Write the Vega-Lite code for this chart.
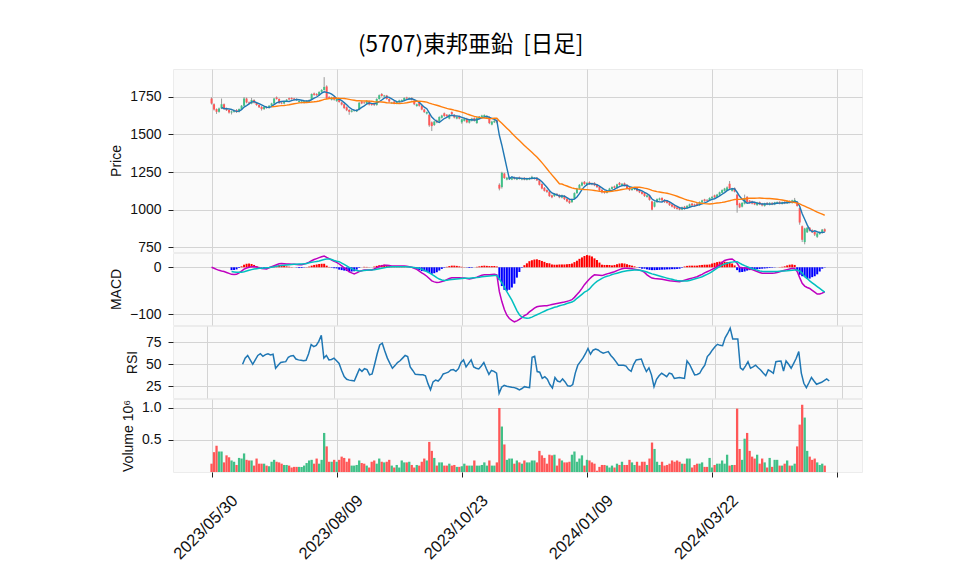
{
"$schema":"https://vega.github.io/schema/vega-lite/v6.json",
"background":"white",
"padding":{"left":108,"top":34,"right":5,"bottom":5},
"title":{"text":"(5707)東邦亜鉛 \u00a0[日足]","font":"Noto Sans CJK JP","fontSize":22.5,"fontWeight":"normal","anchor":"middle","dx":-15,"offset":12,"color":"#000000"},
"config":{
"view":{"fill":"#fafafa","stroke":"#ececec"},
"axis":{"labelFont":"Liberation Sans","titleFont":"Liberation Sans","labelFontSize":14,"titleFontSize":14,"titleFontWeight":"normal","labelColor":"#111111","titleColor":"#111111","gridColor":"#d4d4d4","gridWidth":1,"tickColor":"#222222","tickSize":5,"labelPadding":7,"titlePadding":6,"domain":false}
},
"spacing":1,
"bounds":"flush",
"datasets":{"d":[
{"i":0,"o":1738,"h":1746,"l":1698,"c":1705,"v":0.13,"m":0},
{"i":1,"o":1700,"h":1706,"l":1658,"c":1665,"v":0.31,"m":-2},
{"i":2,"o":1668,"h":1672,"l":1636,"c":1650,"v":0.41,"m":-4.5},
{"i":3,"o":1650,"h":1678,"l":1644,"c":1672,"v":0.32,"m":-6.5},
{"i":4,"o":1672,"h":1738,"l":1668,"c":1700,"v":0.32,"m":-8},
{"i":5,"o":1700,"h":1705,"l":1662,"c":1670,"v":0.15,"m":-9},
{"i":6,"o":1672,"h":1678,"l":1655,"c":1660,"v":0.26,"m":-11},
{"i":7,"o":1662,"h":1668,"l":1638,"c":1645,"v":0.23,"m":-13},
{"i":8,"o":1645,"h":1658,"l":1632,"c":1652,"v":0.18,"m":-15,"s":-9,"d":-6},
{"i":9,"o":1650,"h":1665,"l":1644,"c":1660,"v":0.16,"m":-15.5,"s":-9.8,"d":-5.7},
{"i":10,"o":1662,"h":1668,"l":1642,"c":1648,"v":0.11,"m":-15,"s":-10.5,"d":-4.5},
{"i":11,"o":1650,"h":1672,"l":1645,"c":1668,"v":0.22,"m":-12,"s":-10.8,"d":-1.5},
{"i":12,"o":1668,"h":1695,"l":1664,"c":1690,"v":0.21,"m":-8,"s":-10.6,"d":2},
{"i":13,"o":1690,"h":1748,"l":1686,"c":1738,"v":0.29,"m":-4,"s":-9.5,"d":5.5},
{"i":14,"o":1738,"h":1744,"l":1706,"c":1712,"v":0.19,"m":-1.5,"s":-8,"d":7.5,"r":50},
{"i":15,"o":1712,"h":1718,"l":1700,"c":1705,"v":0.18,"m":0,"s":-6.5,"d":8,"r":57},
{"i":16,"o":1705,"h":1742,"l":1700,"c":1728,"v":0.18,"m":1,"s":-5,"d":7,"r":60},
{"i":17,"o":1728,"h":1733,"l":1705,"c":1710,"v":0.10,"m":1.4,"s":-3.7,"d":5,"r":55},
{"i":18,"o":1710,"h":1714,"l":1690,"c":1695,"v":0.21,"m":0.5,"s":-3,"d":2.5,"r":50},
{"i":19,"o":1695,"h":1700,"l":1675,"c":1680,"v":0.13,"m":-1,"s":-2.3,"d":0.8,"r":55},
{"i":20,"o":1682,"h":1688,"l":1658,"c":1668,"v":0.13,"m":-2.5,"s":-1.8,"d":-1,"r":60},
{"i":21,"o":1668,"h":1686,"l":1662,"c":1682,"v":0.13,"m":-3,"s":-1.4,"d":-1.6,"r":62},
{"i":22,"o":1682,"h":1688,"l":1670,"c":1675,"v":0.10,"m":-3.5,"s":-0.9,"d":-2.6,"r":59},
{"i":23,"o":1675,"h":1694,"l":1670,"c":1690,"v":0.09,"m":-1,"s":-0.5,"d":-0.5,"r":61},
{"i":24,"o":1690,"h":1710,"l":1686,"c":1705,"v":0.16,"m":1.5,"s":0.3,"d":1.2,"r":62},
{"i":25,"o":1705,"h":1742,"l":1700,"c":1738,"v":0.19,"m":3.5,"s":1,"d":2.5,"r":60.6},
{"i":26,"o":1745,"h":1752,"l":1730,"c":1735,"v":0.16,"m":5.5,"s":2,"d":3.5,"r":61.4},
{"i":27,"o":1735,"h":1740,"l":1702,"c":1708,"v":0.15,"m":7.5,"s":3,"d":4.5,"r":45.5},
{"i":28,"o":1710,"h":1716,"l":1700,"c":1705,"v":0.13,"m":7.8,"s":3.8,"d":4,"r":49},
{"i":29,"o":1705,"h":1722,"l":1700,"c":1718,"v":0.11,"m":7.4,"s":4.5,"d":3,"r":52},
{"i":30,"o":1718,"h":1735,"l":1714,"c":1730,"v":0.11,"m":7,"s":5,"d":2,"r":52.5},
{"i":31,"o":1740,"h":1745,"l":1727,"c":1732,"v":0.10,"m":6.8,"s":5.5,"d":1.3,"r":53},
{"i":32,"o":1742,"h":1746,"l":1730,"c":1735,"v":0.07,"m":6.6,"s":6,"d":0.6,"r":58},
{"i":33,"o":1738,"h":1742,"l":1725,"c":1730,"v":0.08,"m":6.4,"s":6.4,"d":0,"r":59.5},
{"i":34,"o":1735,"h":1739,"l":1722,"c":1728,"v":0.08,"m":6,"s":6.6,"d":-0.6,"r":60},
{"i":35,"o":1715,"h":1726,"l":1710,"c":1722,"v":0.08,"m":5.2,"s":6.8,"d":-1.6,"r":56},
{"i":36,"o":1712,"h":1722,"l":1706,"c":1718,"v":0.08,"m":5.5,"s":7,"d":-1.5,"r":55},
{"i":37,"o":1710,"h":1724,"l":1705,"c":1720,"v":0.10,"m":6.8,"s":7.4,"d":-0.6,"r":54.5},
{"i":38,"o":1712,"h":1726,"l":1708,"c":1722,"v":0.14,"m":8.5,"s":8,"d":0.5,"r":54},
{"i":39,"o":1718,"h":1732,"l":1714,"c":1728,"v":0.18,"m":11,"s":9.5,"d":1.5,"r":54.5},
{"i":40,"o":1730,"h":1772,"l":1726,"c":1768,"v":0.19,"m":14,"s":10.5,"d":3.5,"r":62},
{"i":41,"o":1772,"h":1778,"l":1756,"c":1762,"v":0.13,"m":16.5,"s":11.5,"d":5,"r":72.5},
{"i":42,"o":1768,"h":1774,"l":1755,"c":1760,"v":0.21,"m":18.5,"s":12.5,"d":6,"r":70},
{"i":43,"o":1760,"h":1786,"l":1756,"c":1782,"v":0.13,"m":20.5,"s":13.5,"d":7,"r":71.5},
{"i":44,"o":1782,"h":1800,"l":1778,"c":1795,"v":0.19,"m":22.5,"s":15,"d":7.5,"r":76},
{"i":45,"o":1795,"h":1880,"l":1790,"c":1815,"v":0.61,"m":24,"s":16.5,"d":7.5,"r":83},
{"i":46,"o":1818,"h":1826,"l":1735,"c":1740,"v":0.40,"m":21,"s":17.5,"d":3.5,"r":57},
{"i":47,"o":1748,"h":1754,"l":1736,"c":1742,"v":0.16,"m":18.5,"s":17.7,"d":0.8,"r":60},
{"i":48,"o":1730,"h":1750,"l":1725,"c":1745,"v":0.16,"m":15.5,"s":16.5,"d":-1,"r":55},
{"i":49,"o":1748,"h":1752,"l":1724,"c":1730,"v":0.19,"m":12.5,"s":14.5,"d":-2,"r":55.5},
{"i":50,"o":1722,"h":1740,"l":1716,"c":1735,"v":0.16,"m":10.6,"s":13,"d":-2.4,"r":57},
{"i":51,"o":1735,"h":1740,"l":1710,"c":1715,"v":0.19,"m":7,"s":12,"d":-5,"r":54},
{"i":52,"o":1712,"h":1718,"l":1692,"c":1698,"v":0.24,"m":3,"s":9,"d":-6,"r":51},
{"i":53,"o":1700,"h":1705,"l":1668,"c":1675,"v":0.22,"m":-1,"s":6,"d":-7,"r":43},
{"i":54,"o":1680,"h":1686,"l":1654,"c":1660,"v":0.16,"m":-5,"s":3,"d":-8,"r":36},
{"i":55,"o":1662,"h":1668,"l":1630,"c":1650,"v":0.21,"m":-9.5,"s":0,"d":-9.5,"r":33},
{"i":56,"o":1650,"h":1662,"l":1645,"c":1658,"v":0.10,"m":-12,"s":-3,"d":-9,"r":32},
{"i":57,"o":1655,"h":1665,"l":1650,"c":1660,"v":0.10,"m":-14,"s":-5.5,"d":-8.5,"r":31.5},
{"i":58,"o":1652,"h":1668,"l":1648,"c":1662,"v":0.11,"m":-12,"s":-7,"d":-5,"r":31},
{"i":59,"o":1665,"h":1715,"l":1660,"c":1710,"v":0.18,"m":-9,"s":-7.8,"d":-1.2,"r":38},
{"i":60,"o":1718,"h":1724,"l":1700,"c":1705,"v":0.14,"m":-7.5,"s":-7.5,"d":0,"r":44.7},
{"i":61,"o":1712,"h":1716,"l":1702,"c":1708,"v":0.13,"m":-6,"s":-7,"d":1,"r":42},
{"i":62,"o":1705,"h":1727,"l":1700,"c":1722,"v":0.10,"m":-5.7,"s":-6.5,"d":0.8,"r":45},
{"i":63,"o":1720,"h":1725,"l":1692,"c":1698,"v":0.07,"m":-5.7,"s":-6,"d":0.3,"r":44},
{"i":64,"o":1702,"h":1706,"l":1690,"c":1695,"v":0.16,"m":-5.7,"s":-5.7,"d":0,"r":38},
{"i":65,"o":1700,"h":1704,"l":1688,"c":1695,"v":0.18,"m":-3.5,"s":-5,"d":1.5,"r":39},
{"i":66,"o":1695,"h":1740,"l":1690,"c":1735,"v":0.13,"m":-1,"s":-4,"d":3,"r":50},
{"i":67,"o":1735,"h":1765,"l":1730,"c":1760,"v":0.21,"m":1.4,"s":-3,"d":4.4,"r":62},
{"i":68,"o":1768,"h":1774,"l":1750,"c":1755,"v":0.16,"m":3,"s":-2,"d":5,"r":72},
{"i":69,"o":1752,"h":1762,"l":1746,"c":1758,"v":0.15,"m":4.5,"s":-1,"d":5.5,"r":74},
{"i":70,"o":1758,"h":1762,"l":1730,"c":1735,"v":0.16,"m":4.5,"s":0,"d":4.5,"r":65},
{"i":71,"o":1735,"h":1740,"l":1712,"c":1718,"v":0.19,"m":3.8,"s":0.6,"d":3.2,"r":57},
{"i":72,"o":1708,"h":1716,"l":1702,"c":1712,"v":0.10,"m":3,"s":1,"d":2,"r":51},
{"i":73,"o":1718,"h":1722,"l":1700,"c":1705,"v":0.07,"m":2.8,"s":1.2,"d":1.6,"r":45.5},
{"i":74,"o":1705,"h":1722,"l":1700,"c":1718,"v":0.11,"m":2.8,"s":1.3,"d":1.5,"r":48.5},
{"i":75,"o":1715,"h":1730,"l":1710,"c":1725,"v":0.07,"m":2.8,"s":1.4,"d":1.4,"r":52},
{"i":76,"o":1722,"h":1732,"l":1718,"c":1728,"v":0.18,"m":2.8,"s":1.4,"d":1.4,"r":54},
{"i":77,"o":1725,"h":1746,"l":1720,"c":1742,"v":0.15,"m":2.8,"s":1.4,"d":1.4,"r":57},
{"i":78,"o":1745,"h":1750,"l":1733,"c":1738,"v":0.15,"m":2,"s":1.2,"d":0.8,"r":60},
{"i":79,"o":1735,"h":1746,"l":1730,"c":1742,"v":0.16,"m":1,"s":0.8,"d":0.2,"r":58.7},
{"i":80,"o":1742,"h":1747,"l":1725,"c":1730,"v":0.11,"m":0,"s":0.2,"d":-0.2,"r":47},
{"i":81,"o":1725,"h":1730,"l":1694,"c":1700,"v":0.07,"m":-2,"s":-0.5,"d":-1.5,"r":43},
{"i":82,"o":1688,"h":1705,"l":1684,"c":1700,"v":0.11,"m":-4.5,"s":-1.3,"d":-3.2,"r":38.6},
{"i":83,"o":1712,"h":1716,"l":1684,"c":1690,"v":0.10,"m":-8,"s":-2,"d":-6,"r":38.4},
{"i":84,"o":1690,"h":1695,"l":1660,"c":1665,"v":0.16,"m":-12,"s":-4,"d":-8,"r":38.2},
{"i":85,"o":1665,"h":1670,"l":1642,"c":1648,"v":0.21,"m":-15,"s":-6.5,"d":-8.5,"r":38},
{"i":86,"o":1638,"h":1652,"l":1632,"c":1648,"v":0.18,"m":-19,"s":-9,"d":-10,"r":37},
{"i":87,"o":1630,"h":1635,"l":1550,"c":1560,"v":0.47,"m":-24,"s":-12,"d":-12,"r":28},
{"i":88,"o":1580,"h":1586,"l":1522,"c":1555,"v":0.33,"m":-29,"s":-15,"d":-14,"r":21},
{"i":89,"o":1562,"h":1590,"l":1556,"c":1585,"v":0.22,"m":-31,"s":-18.5,"d":-12.5,"r":30},
{"i":90,"o":1592,"h":1598,"l":1574,"c":1580,"v":0.10,"m":-32.5,"s":-22,"d":-10.5,"r":32},
{"i":91,"o":1585,"h":1620,"l":1580,"c":1615,"v":0.15,"m":-32,"s":-25,"d":-7,"r":31},
{"i":92,"o":1610,"h":1630,"l":1605,"c":1625,"v":0.15,"m":-30.5,"s":-27,"d":-3.5,"r":34},
{"i":93,"o":1640,"h":1645,"l":1616,"c":1622,"v":0.10,"m":-29,"s":-28,"d":-1,"r":39},
{"i":94,"o":1630,"h":1635,"l":1614,"c":1620,"v":0.10,"m":-26.5,"s":-27.5,"d":1,"r":40},
{"i":95,"o":1605,"h":1635,"l":1600,"c":1630,"v":0.13,"m":-24,"s":-26.5,"d":2.5,"r":41},
{"i":96,"o":1648,"h":1652,"l":1630,"c":1635,"v":0.10,"m":-22.5,"s":-26,"d":3.5,"r":43.5},
{"i":97,"o":1630,"h":1635,"l":1606,"c":1612,"v":0.11,"m":-22,"s":-25.5,"d":3.5,"r":44},
{"i":98,"o":1605,"h":1620,"l":1600,"c":1615,"v":0.08,"m":-22,"s":-25,"d":3,"r":42},
{"i":99,"o":1620,"h":1625,"l":1600,"c":1605,"v":0.08,"m":-22.5,"s":-24.5,"d":2,"r":45},
{"i":100,"o":1580,"h":1605,"l":1570,"c":1600,"v":0.09,"m":-23,"s":-24,"d":1,"r":52},
{"i":101,"o":1590,"h":1610,"l":1585,"c":1605,"v":0.13,"m":-23,"s":-23.5,"d":0.5,"r":55},
{"i":102,"o":1605,"h":1610,"l":1574,"c":1580,"v":0.10,"m":-24,"s":-23.5,"d":-0.5,"r":47},
{"i":103,"o":1578,"h":1600,"l":1572,"c":1595,"v":0.10,"m":-25,"s":-23.5,"d":-1.5,"r":51},
{"i":104,"o":1590,"h":1610,"l":1585,"c":1605,"v":0.10,"m":-24,"s":-23,"d":-1,"r":55},
{"i":105,"o":1608,"h":1613,"l":1585,"c":1590,"v":0.18,"m":-22.5,"s":-22.5,"d":0,"r":47},
{"i":106,"o":1575,"h":1615,"l":1570,"c":1610,"v":0.10,"m":-21,"s":-22,"d":1,"r":45.5},
{"i":107,"o":1605,"h":1622,"l":1600,"c":1618,"v":0.10,"m":-19,"s":-21,"d":2,"r":44.7},
{"i":108,"o":1612,"h":1630,"l":1608,"c":1625,"v":0.11,"m":-17,"s":-20,"d":3,"r":48},
{"i":109,"o":1615,"h":1633,"l":1610,"c":1628,"v":0.15,"m":-16,"s":-19.5,"d":3.5,"r":52},
{"i":110,"o":1610,"h":1625,"l":1605,"c":1620,"v":0.10,"m":-16,"s":-19,"d":3,"r":45},
{"i":111,"o":1615,"h":1620,"l":1568,"c":1575,"v":0.18,"m":-16,"s":-18.5,"d":2.5,"r":38.6},
{"i":112,"o":1565,"h":1590,"l":1560,"c":1585,"v":0.10,"m":-15.5,"s":-18,"d":2.5,"r":43},
{"i":113,"o":1580,"h":1596,"l":1575,"c":1590,"v":0.10,"m":-15,"s":-17.7,"d":2.7,"r":42},
{"i":114,"o":1592,"h":1598,"l":1574,"c":1580,"v":0.15,"m":-16,"s":-17.7,"d":1.7,"r":40},
{"i":115,"o":1165,"h":1175,"l":1128,"c":1140,"v":1.0,"m":-52,"s":-25,"d":-27,"r":17},
{"i":116,"o":1150,"h":1252,"l":1140,"c":1245,"v":0.71,"m":-73,"s":-33,"d":-40,"r":24},
{"i":117,"o":1240,"h":1245,"l":1204,"c":1210,"v":0.43,"m":-90,"s":-42,"d":-48,"r":26},
{"i":118,"o":1200,"h":1218,"l":1195,"c":1212,"v":0.19,"m":-102,"s":-52,"d":-50,"r":25},
{"i":119,"o":1205,"h":1220,"l":1200,"c":1215,"v":0.21,"m":-109,"s":-61,"d":-48,"r":24.6},
{"i":120,"o":1200,"h":1215,"l":1196,"c":1210,"v":0.21,"m":-113,"s":-70,"d":-43,"r":24},
{"i":121,"o":1215,"h":1220,"l":1200,"c":1205,"v":0.13,"m":-116,"s":-81,"d":-35,"r":23.5},
{"i":122,"o":1200,"h":1214,"l":1196,"c":1210,"v":0.18,"m":-114,"s":-92,"d":-22,"r":22.5},
{"i":123,"o":1215,"h":1220,"l":1200,"c":1205,"v":0.15,"m":-111,"s":-101,"d":-10,"r":21},
{"i":124,"o":1200,"h":1212,"l":1195,"c":1208,"v":0.13,"m":-107,"s":-106,"d":-1,"r":22.5},
{"i":125,"o":1212,"h":1216,"l":1195,"c":1200,"v":0.18,"m":-103,"s":-107.5,"d":4.5,"r":24.6},
{"i":126,"o":1198,"h":1212,"l":1194,"c":1208,"v":0.15,"m":-100,"s":-108.5,"d":8.5,"r":24},
{"i":127,"o":1200,"h":1215,"l":1196,"c":1210,"v":0.15,"m":-95,"s":-108,"d":13,"r":23.5},
{"i":128,"o":1205,"h":1225,"l":1200,"c":1218,"v":0.18,"m":-91,"s":-106,"d":15,"r":58},
{"i":129,"o":1205,"h":1216,"l":1200,"c":1212,"v":0.18,"m":-87,"s":-103.5,"d":16.5,"r":59},
{"i":130,"o":1212,"h":1216,"l":1190,"c":1195,"v":0.15,"m":-84,"s":-101,"d":17,"r":41.7},
{"i":131,"o":1195,"h":1200,"l":1160,"c":1165,"v":0.33,"m":-83,"s":-98.5,"d":15.5,"r":41},
{"i":132,"o":1170,"h":1175,"l":1135,"c":1140,"v":0.26,"m":-82.5,"s":-96,"d":13.5,"r":34},
{"i":133,"o":1145,"h":1150,"l":1120,"c":1125,"v":0.22,"m":-82,"s":-93.5,"d":11.5,"r":36},
{"i":134,"o":1130,"h":1135,"l":1112,"c":1118,"v":0.13,"m":-82,"s":-91,"d":9,"r":33},
{"i":135,"o":1120,"h":1125,"l":1085,"c":1090,"v":0.27,"m":-80.5,"s":-89,"d":8.5,"r":27},
{"i":136,"o":1095,"h":1100,"l":1076,"c":1082,"v":0.26,"m":-79,"s":-87,"d":6,"r":23},
{"i":137,"o":1090,"h":1110,"l":1085,"c":1105,"v":0.27,"m":-78,"s":-85,"d":5.5,"r":35},
{"i":138,"o":1105,"h":1110,"l":1090,"c":1095,"v":0.10,"m":-77,"s":-84,"d":5.5,"r":31},
{"i":139,"o":1098,"h":1102,"l":1076,"c":1082,"v":0.21,"m":-76,"s":-82,"d":6,"r":30},
{"i":140,"o":1080,"h":1100,"l":1075,"c":1095,"v":0.18,"m":-75,"s":-80.5,"d":6,"r":33.3},
{"i":141,"o":1092,"h":1096,"l":1064,"c":1070,"v":0.15,"m":-74,"s":-79,"d":6,"r":30},
{"i":142,"o":1072,"h":1076,"l":1050,"c":1055,"v":0.15,"m":-72.5,"s":-77,"d":6.5,"r":25.5},
{"i":143,"o":1060,"h":1064,"l":1038,"c":1045,"v":0.16,"m":-71,"s":-75.5,"d":7,"r":25},
{"i":144,"o":1050,"h":1075,"l":1045,"c":1070,"v":0.27,"m":-69,"s":-74,"d":8,"r":27},
{"i":145,"o":1072,"h":1115,"l":1068,"c":1110,"v":0.32,"m":-64,"s":-71,"d":11,"r":40},
{"i":146,"o":1110,"h":1145,"l":1105,"c":1140,"v":0.16,"m":-58,"s":-66,"d":14,"r":49},
{"i":147,"o":1140,"h":1170,"l":1135,"c":1165,"v":0.21,"m":-52,"s":-62,"d":18,"r":53},
{"i":148,"o":1160,"h":1186,"l":1155,"c":1180,"v":0.26,"m":-45,"s":-57.5,"d":21,"r":57},
{"i":149,"o":1185,"h":1190,"l":1165,"c":1170,"v":0.10,"m":-37,"s":-53,"d":24,"r":62},
{"i":150,"o":1165,"h":1182,"l":1160,"c":1178,"v":0.19,"m":-31,"s":-50,"d":26,"r":68},
{"i":151,"o":1182,"h":1188,"l":1165,"c":1170,"v":0.18,"m":-25,"s":-46,"d":25,"r":61.4},
{"i":152,"o":1175,"h":1180,"l":1162,"c":1168,"v":0.15,"m":-20,"s":-40,"d":23,"r":66},
{"i":153,"o":1178,"h":1182,"l":1156,"c":1162,"v":0.13,"m":-16,"s":-34.5,"d":19,"r":67.4},
{"i":154,"o":1165,"h":1170,"l":1144,"c":1150,"v":0.02,"m":-16.5,"s":-30,"d":15.5,"r":66.3},
{"i":155,"o":1152,"h":1156,"l":1124,"c":1130,"v":0.08,"m":-17,"s":-27,"d":10,"r":64},
{"i":156,"o":1132,"h":1136,"l":1108,"c":1115,"v":0.11,"m":-17.7,"s":-23.5,"d":5.5,"r":62.5},
{"i":157,"o":1122,"h":1126,"l":1106,"c":1112,"v":0.11,"m":-16,"s":-21,"d":5,"r":63.5},
{"i":158,"o":1112,"h":1130,"l":1108,"c":1125,"v":0.10,"m":-14,"s":-19,"d":5,"r":64.4},
{"i":159,"o":1125,"h":1145,"l":1120,"c":1140,"v":0.07,"m":-12.8,"s":-17.7,"d":4.9,"r":60},
{"i":160,"o":1138,"h":1155,"l":1134,"c":1150,"v":0.10,"m":-11,"s":-15.5,"d":4,"r":56.8},
{"i":161,"o":1155,"h":1160,"l":1140,"c":1145,"v":0.07,"m":-9.5,"s":-14,"d":5,"r":53},
{"i":162,"o":1145,"h":1172,"l":1140,"c":1168,"v":0.13,"m":-7,"s":-12.5,"d":6.5,"r":49},
{"i":163,"o":1178,"h":1184,"l":1160,"c":1165,"v":0.11,"m":-5,"s":-11,"d":8,"r":49},
{"i":164,"o":1160,"h":1176,"l":1155,"c":1172,"v":0.16,"m":-3,"s":-9.5,"d":8.5,"r":49},
{"i":165,"o":1175,"h":1180,"l":1155,"c":1160,"v":0.11,"m":-2,"s":-8.5,"d":8,"r":48},
{"i":166,"o":1165,"h":1170,"l":1135,"c":1140,"v":0.11,"m":-2,"s":-7.5,"d":6.5,"r":44},
{"i":167,"o":1145,"h":1150,"l":1125,"c":1130,"v":0.19,"m":-2.5,"s":-6.8,"d":5,"r":42},
{"i":168,"o":1130,"h":1145,"l":1126,"c":1140,"v":0.15,"m":-3,"s":-6.2,"d":3.5,"r":50},
{"i":169,"o":1135,"h":1146,"l":1130,"c":1142,"v":0.11,"m":-4,"s":-5.8,"d":2,"r":55},
{"i":170,"o":1145,"h":1150,"l":1120,"c":1125,"v":0.16,"m":-5,"s":-5.7,"d":0.5,"r":55.5},
{"i":171,"o":1130,"h":1135,"l":1110,"c":1115,"v":0.10,"m":-6,"s":-6.5,"d":-1.5,"r":56},
{"i":172,"o":1118,"h":1122,"l":1100,"c":1105,"v":0.16,"m":-7.5,"s":-7.5,"d":-3,"r":48},
{"i":173,"o":1110,"h":1114,"l":1085,"c":1090,"v":0.16,"m":-11,"s":-8.5,"d":-3,"r":41.7},
{"i":174,"o":1085,"h":1100,"l":1080,"c":1095,"v":0.11,"m":-16,"s":-10,"d":-4.5,"r":46},
{"i":175,"o":1095,"h":1100,"l":1060,"c":1065,"v":0.21,"m":-20,"s":-12,"d":-5.5,"r":38},
{"i":176,"o":1055,"h":1060,"l":995,"c":1000,"v":0.46,"m":-23,"s":-14,"d":-6,"r":24.6},
{"i":177,"o":1020,"h":1055,"l":1015,"c":1050,"v":0.36,"m":-24,"s":-15.5,"d":-6,"r":33},
{"i":178,"o":1050,"h":1075,"l":1045,"c":1070,"v":0.16,"m":-24.5,"s":-17,"d":-5.7,"r":37},
{"i":179,"o":1065,"h":1080,"l":1060,"c":1075,"v":0.11,"m":-25,"s":-18.5,"d":-5.5,"r":39.8},
{"i":180,"o":1078,"h":1082,"l":1056,"c":1062,"v":0.16,"m":-25.5,"s":-20,"d":-5,"r":38},
{"i":181,"o":1065,"h":1070,"l":1045,"c":1050,"v":0.10,"m":-26.5,"s":-21.5,"d":-5,"r":36},
{"i":182,"o":1060,"h":1064,"l":1040,"c":1045,"v":0.11,"m":-27.5,"s":-23,"d":-4.5,"r":40},
{"i":183,"o":1050,"h":1054,"l":1025,"c":1030,"v":0.13,"m":-28.5,"s":-24.5,"d":-4.5,"r":39},
{"i":184,"o":1035,"h":1040,"l":1015,"c":1020,"v":0.18,"m":-29,"s":-25.5,"d":-4,"r":34},
{"i":185,"o":1030,"h":1034,"l":1005,"c":1010,"v":0.16,"m":-29.5,"s":-27,"d":-4,"r":34.5},
{"i":186,"o":1015,"h":1020,"l":1000,"c":1005,"v":0.18,"m":-30,"s":-28,"d":-3.5,"r":35},
{"i":187,"o":1012,"h":1016,"l":995,"c":1000,"v":0.16,"m":-30.5,"s":-28.5,"d":-3,"r":34.5},
{"i":188,"o":1000,"h":1020,"l":996,"c":1015,"v":0.13,"m":-29,"s":-29,"d":-1,"r":34},
{"i":189,"o":1020,"h":1025,"l":1000,"c":1005,"v":0.13,"m":-27.5,"s":-29,"d":1.5,"r":53.8},
{"i":190,"o":1010,"h":1030,"l":1005,"c":1025,"v":0.21,"m":-26,"s":-29,"d":3,"r":50},
{"i":191,"o":1022,"h":1040,"l":1018,"c":1035,"v":0.21,"m":-24.5,"s":-28,"d":3.5,"r":44},
{"i":192,"o":1040,"h":1045,"l":1022,"c":1028,"v":0.07,"m":-23,"s":-26.5,"d":3.5,"r":37.9},
{"i":193,"o":1035,"h":1040,"l":1020,"c":1025,"v":0.11,"m":-21.5,"s":-25,"d":3.5,"r":38.5},
{"i":194,"o":1040,"h":1045,"l":1025,"c":1030,"v":0.13,"m":-20,"s":-23.5,"d":3.5,"r":39.8},
{"i":195,"o":1030,"h":1055,"l":1026,"c":1050,"v":0.13,"m":-17.5,"s":-22,"d":4.5,"r":45},
{"i":196,"o":1048,"h":1066,"l":1044,"c":1062,"v":0.15,"m":-15,"s":-20,"d":5,"r":49},
{"i":197,"o":1068,"h":1072,"l":1052,"c":1058,"v":0.08,"m":-12,"s":-17.5,"d":5.5,"r":58.7},
{"i":198,"o":1065,"h":1070,"l":1055,"c":1060,"v":0.08,"m":-9.5,"s":-15,"d":5.5,"r":62},
{"i":199,"o":1062,"h":1082,"l":1058,"c":1078,"v":0.22,"m":-7,"s":-12.5,"d":6,"r":66.3},
{"i":200,"o":1075,"h":1090,"l":1070,"c":1085,"v":0.07,"m":-4.5,"s":-9,"d":8,"r":70},
{"i":201,"o":1095,"h":1100,"l":1078,"c":1082,"v":0.11,"m":-2,"s":-5.7,"d":9.5,"r":72.7},
{"i":202,"o":1085,"h":1105,"l":1080,"c":1100,"v":0.13,"m":1.4,"s":-2,"d":11,"r":71.5},
{"i":203,"o":1100,"h":1120,"l":1095,"c":1115,"v":0.13,"m":6,"s":1.5,"d":12,"r":71.2},
{"i":204,"o":1112,"h":1135,"l":1108,"c":1130,"v":0.18,"m":10.5,"s":4.5,"d":12,"r":80},
{"i":205,"o":1125,"h":1145,"l":1120,"c":1140,"v":0.13,"m":14.5,"s":7,"d":12,"r":85},
{"i":206,"o":1128,"h":1155,"l":1124,"c":1148,"v":0.27,"m":16,"s":8.5,"d":11,"r":91},
{"i":207,"o":1172,"h":1190,"l":1135,"c":1140,"v":0.10,"m":17,"s":10,"d":10,"r":78.8},
{"i":208,"o":1125,"h":1145,"l":1120,"c":1140,"v":0.11,"m":17.7,"s":11,"d":8,"r":78.8},
{"i":209,"o":1142,"h":1148,"l":1115,"c":1120,"v":0.11,"m":14,"s":12,"d":4,"r":78.8},
{"i":210,"o":1100,"h":1105,"l":980,"c":1030,"v":0.99,"m":8.5,"s":12,"d":-6,"r":46},
{"i":211,"o":1040,"h":1046,"l":1010,"c":1015,"v":0.36,"m":0,"s":9,"d":-10.6,"r":43.6},
{"i":212,"o":1020,"h":1050,"l":1015,"c":1045,"v":0.19,"m":-1,"s":6,"d":-10,"r":48},
{"i":213,"o":1040,"h":1100,"l":1035,"c":1075,"v":0.52,"m":-1.5,"s":3.5,"d":-9,"r":53},
{"i":214,"o":1085,"h":1090,"l":1045,"c":1050,"v":0.61,"m":-2,"s":1.4,"d":-7,"r":45.5},
{"i":215,"o":1060,"h":1064,"l":1040,"c":1045,"v":0.33,"m":-3.5,"s":-1,"d":-6,"r":47},
{"i":216,"o":1055,"h":1060,"l":1035,"c":1040,"v":0.24,"m":-5,"s":-3,"d":-5,"r":49},
{"i":217,"o":1048,"h":1052,"l":1030,"c":1035,"v":0.21,"m":-7,"s":-4.5,"d":-4.5,"r":46},
{"i":218,"o":1030,"h":1052,"l":1026,"c":1048,"v":0.27,"m":-9,"s":-6,"d":-4,"r":43.6},
{"i":219,"o":1050,"h":1054,"l":1030,"c":1035,"v":0.13,"m":-11,"s":-7.8,"d":-3.5,"r":40},
{"i":220,"o":1040,"h":1045,"l":1022,"c":1028,"v":0.21,"m":-12.8,"s":-8.5,"d":-3,"r":37},
{"i":221,"o":1025,"h":1046,"l":1020,"c":1042,"v":0.15,"m":-12.8,"s":-9,"d":-2.5,"r":43.6},
{"i":222,"o":1045,"h":1050,"l":1030,"c":1035,"v":0.07,"m":-12.8,"s":-9.2,"d":-2,"r":42},
{"i":223,"o":1032,"h":1050,"l":1028,"c":1045,"v":0.22,"m":-12.8,"s":-9.2,"d":-1.5,"r":39.8},
{"i":224,"o":1045,"h":1050,"l":1030,"c":1035,"v":0.08,"m":-12.8,"s":-9.2,"d":-1,"r":53},
{"i":225,"o":1035,"h":1052,"l":1030,"c":1048,"v":0.19,"m":-12,"s":-9.2,"d":-0.5,"r":53.5},
{"i":226,"o":1042,"h":1055,"l":1038,"c":1050,"v":0.19,"m":-11,"s":-9,"d":0,"r":53.8},
{"i":227,"o":1052,"h":1056,"l":1035,"c":1040,"v":0.10,"m":-9.5,"s":-8.5,"d":0.5,"r":42.4},
{"i":228,"o":1038,"h":1054,"l":1034,"c":1050,"v":0.10,"m":-8,"s":-8,"d":1,"r":53.8},
{"i":229,"o":1052,"h":1056,"l":1037,"c":1042,"v":0.13,"m":-6.5,"s":-7.8,"d":2,"r":50},
{"i":230,"o":1042,"h":1060,"l":1038,"c":1055,"v":0.18,"m":-5,"s":-7.5,"d":4,"r":45.5},
{"i":231,"o":1058,"h":1062,"l":1043,"c":1048,"v":0.10,"m":-3.5,"s":-7,"d":5.5,"r":51},
{"i":232,"o":1045,"h":1066,"l":1040,"c":1062,"v":0.10,"m":-2,"s":-6.5,"d":6,"r":56.8},
{"i":233,"o":1050,"h":1078,"l":1046,"c":1065,"v":0.13,"m":-2.5,"s":-6,"d":5,"r":64.4},
{"i":234,"o":1048,"h":1052,"l":1020,"c":1025,"v":0.40,"m":-9,"s":-5.7,"d":-6,"r":40},
{"i":235,"o":1010,"h":1015,"l":900,"c":915,"v":0.74,"m":-22,"s":-8,"d":-16,"r":28.4},
{"i":236,"o":890,"h":895,"l":785,"c":800,"v":1.05,"m":-34,"s":-12,"d":-19,"r":23.5},
{"i":237,"o":785,"h":880,"l":770,"c":875,"v":0.85,"m":-40,"s":-20,"d":-20,"r":29},
{"i":238,"o":850,"h":885,"l":845,"c":880,"v":0.33,"m":-43,"s":-24,"d":-25,"r":35},
{"i":239,"o":880,"h":885,"l":855,"c":860,"v":0.24,"m":-45,"s":-29,"d":-24,"r":31},
{"i":240,"o":865,"h":870,"l":845,"c":850,"v":0.19,"m":-49,"s":-33,"d":-21,"r":27.3},
{"i":241,"o":852,"h":856,"l":825,"c":835,"v":0.21,"m":-53,"s":-37,"d":-19,"r":28.5},
{"i":242,"o":820,"h":848,"l":812,"c":842,"v":0.15,"m":-57,"s":-41,"d":-15,"r":29.5},
{"i":243,"o":838,"h":856,"l":834,"c":852,"v":0.11,"m":-57,"s":-45,"d":-9,"r":31.5},
{"i":244,"o":845,"h":872,"l":840,"c":868,"v":0.13,"m":-55,"s":-49,"d":-3,"r":33.3},
{"i":245,"o":870,"h":876,"l":850,"c":855,"v":0.10,"m":-52,"s":-53,"d":-0.7,"r":31}
]},
"vconcat":[
{"width":689,"height":183,"data":{"name":"d"},
"layer":[
{"mark":{"type":"rule","color":"#9a9a9a","strokeWidth":1},
"encoding":{"x":{"field":"i","type":"quantitative","scale":{"domain":[-13.4,257.9],"nice":false,"zero":false},"axis":{"values":[0,50,100,150,200,250],"labels":false,"ticks":false,"title":null,"grid":true}},
"y":{"field":"l","type":"quantitative","scale":{"domain":[719,1934],"nice":false,"zero":false},"axis":{"values":[750,1000,1250,1500,1750],"format":"d","title":"Price"}},
"y2":{"field":"h"}}},
{"mark":{"type":"bar","size":2},
"encoding":{"x":{"field":"i","type":"quantitative"},"y":{"field":"o","type":"quantitative","title":"Price"},"y2":{"field":"c"},
"color":{"condition":{"test":"datum.c >= datum.o","value":"#41c088"},"value":"#ff5757"}}},
{"transform":[{"window":[{"op":"mean","field":"c","as":"ma5"}],"frame":[-4,0],"sort":[{"field":"i"}]},{"filter":"datum.i >= 4"}],
"mark":{"type":"line","color":"#1f77b4","strokeWidth":1.4},
"encoding":{"x":{"field":"i","type":"quantitative"},"y":{"field":"ma5","type":"quantitative","title":"Price"}}},
{"transform":[{"window":[{"op":"mean","field":"c","as":"ma25"}],"frame":[-24,0],"sort":[{"field":"i"}]},{"filter":"datum.i >= 24"}],
"mark":{"type":"line","color":"#ff7f0e","strokeWidth":1.4},
"encoding":{"x":{"field":"i","type":"quantitative"},"y":{"field":"ma25","type":"quantitative","title":"Price"}}}
]},
{"width":689,"height":72,"data":{"name":"d"},
"layer":[
{"transform":[{"filter":"isValid(datum.d)"}],
"mark":{"type":"bar","size":2},
"encoding":{"x":{"field":"i","type":"quantitative","scale":{"domain":[-13.4,257.9],"nice":false,"zero":false},"axis":{"values":[0,50,100,150,200,250],"labels":false,"ticks":false,"title":null,"grid":true}},
"y":{"field":"d","type":"quantitative","scale":{"domain":[-122.8,30.4],"nice":false},"axis":{"values":[-100,0],"title":"MACD"}},
"color":{"condition":{"test":"datum.d >= 0","value":"#ff0000"},"value":"#0000ff"}}},
{"mark":{"type":"line","color":"#bf00bf","strokeWidth":1.5},
"encoding":{"x":{"field":"i","type":"quantitative"},"y":{"field":"m","type":"quantitative","title":"MACD"}}},
{"transform":[{"filter":"isValid(datum.s)"}],
"mark":{"type":"line","color":"#00bfbf","strokeWidth":1.5},
"encoding":{"x":{"field":"i","type":"quantitative"},"y":{"field":"s","type":"quantitative","title":"MACD"}}}
]},
{"width":689,"height":72,"data":{"name":"d"},
"transform":[{"filter":"isValid(datum.r)"}],
"mark":{"type":"line","color":"#1f77b4","strokeWidth":1.5},
"encoding":{"x":{"field":"i","type":"quantitative","scale":{"domain":[-13.4,257.9],"nice":false,"zero":false},"axis":{"values":[0,50,100,150,200,250],"labels":false,"ticks":false,"title":null,"grid":true}},
"y":{"field":"r","type":"quantitative","scale":{"domain":[11.7,93.5],"nice":false,"zero":false},"axis":{"values":[25,50,75],"title":"RSI"}}}},
{"width":689,"height":73,"data":{"name":"d"},
"mark":{"type":"bar","size":2.3},
"encoding":{"x":{"field":"i","type":"quantitative","scale":{"domain":[-13.4,257.9],"nice":false,"zero":false},"axis":{"values":[0,50,100,150,200,250],"title":null,"grid":true,"labelExpr":"datum.value == 0 ? '2023/05/30' : datum.value == 50 ? '2023/08/09' : datum.value == 100 ? '2023/10/23' : datum.value == 150 ? '2024/01/09' : datum.value == 200 ? '2024/03/22' : ''","labelAngle":-45,"labelAlign":"center","labelBaseline":"middle","labelPadding":50,"labelOffset":-6,"labelOverlap":false,"labelBound":false,"labelFlush":false,"labelFontSize":16.5}},
"y":{"field":"v","type":"quantitative","scale":{"domain":[0,1.14],"nice":false},"axis":{"values":[0.5,1.0],"format":".1f","title":"Volume 10⁶"}},
"color":{"condition":{"test":"datum.c >= datum.o","value":"#41c088"},"value":"#ff5757"}}}
]
}
